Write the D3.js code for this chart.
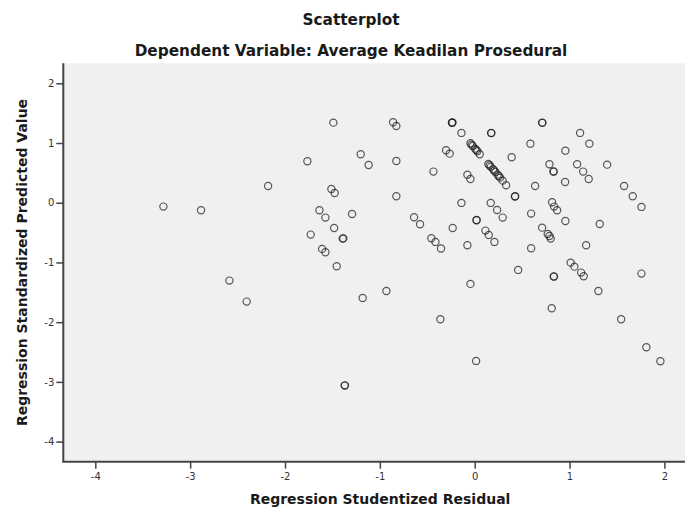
<!DOCTYPE html>
<html>
<head>
<meta charset="utf-8">
<script src="https://cdn.jsdelivr.net/npm/d3@7/dist/d3.min.js"></script>
<style>
  html, body { margin: 0; padding: 0; background: #fff; }
  svg { display: block; }
  .tick text { font-family: "DejaVu Sans", sans-serif; font-size: 10px; fill: #333; }
</style>
</head>
<body>
<svg id="chart" width="685" height="508"></svg>
<script>
// Regression Studentized Residual (x) for each case
const residual = [
  -1.490, -1.202, -1.118, -1.764, -2.178, -3.282, -2.885, -1.511, -1.476, -1.637,
  -1.574, -1.293, -1.482, -1.729, -1.392, -1.385, -1.609, -1.574, -1.455, -2.586,
  -2.404, -1.181, -1.371, -1.368, -0.931,
  -0.238, -0.234, -0.240, -0.140, 0.173, 0.176, 0.711, 0.714, 1.111, 1.209,
  0.587, 0.956, -0.302, -0.264,
  -0.045, -0.033, -0.021, 0.004, 0.016, 0.028, 0.053,
  -0.826, -0.860, -0.826, -0.435, 0.390,
  0.144, 0.156, 0.169, 0.194, 0.206, 0.218, 0.242, 0.255, 0.268, 0.295, 0.331,
  -0.077, -0.045, 0.424, 0.427, 0.788, 0.830, 0.833, 1.080, 1.143, 1.202,
  1.396, 0.953, 0.637, 1.575, 1.666, 1.758, -0.826,
  -0.140, 0.169, 0.236, 0.295, -0.232, 0.018, 0.021, 0.113, 0.148, 0.208,
  -0.077, -0.355, -0.639, -0.576, -0.457, -0.414,
  0.816, 0.837, 0.869, 0.595, 0.956, 1.318, 0.711, 0.770, 0.788, 0.801,
  0.595, 1.175, 1.012, 1.051, 1.122, 1.149, 0.833, 0.836,
  0.458, 1.758, 1.304, -0.045, -0.362, 0.812, 1.544, 0.015, 1.810, 1.958
];

// Regression Standardized Predicted Value (y) for each case
const predicted = [
  1.341, 0.812, 0.633, 0.695, 0.281, -0.065, -0.126, 0.231, 0.164, -0.126,
  -0.249, -0.188, -0.422, -0.534, -0.601, -0.597, -0.773, -0.829, -1.063, -1.304,
  -1.656, -1.594, -3.062, -3.058, -1.477,
  1.341, 1.345, 1.338, 1.169, 1.169, 1.166, 1.341, 1.338, 1.169, 0.989,
  0.989, 0.872, 0.879, 0.822,
  0.996, 0.973, 0.951, 0.906, 0.884, 0.862, 0.812,
  0.700, 1.348, 1.286, 0.521, 0.762,
  0.650, 0.627, 0.604, 0.561, 0.538, 0.516, 0.470, 0.445, 0.420, 0.370, 0.293,
  0.470, 0.398, 0.105, 0.108, 0.645, 0.521, 0.524, 0.645, 0.521, 0.398,
  0.638, 0.348, 0.281, 0.281, 0.109, -0.070, 0.109,
  -0.003, -0.003, -0.121, -0.249, -0.422, -0.293, -0.290, -0.467, -0.539, -0.656,
  -0.712, -0.767, -0.243, -0.360, -0.594, -0.656,
  0.008, -0.065, -0.126, -0.182, -0.305, -0.355, -0.417, -0.522, -0.556, -0.601,
  -0.762, -0.712, -1.003, -1.070, -1.170, -1.231, -1.237, -1.234,
  -1.125, -1.187, -1.477, -1.359, -1.950, -1.766, -1.950, -2.649, -2.419, -2.654
];

const xTicks = [-4, -3, -2, -1, 0, 1, 2];
const yTicks = [-4, -3, -2, -1, 0, 1, 2];

const titleText = "Scatterplot";
const subtitleText = "Dependent Variable: Average Keadilan Prosedural";
const xLabel = "Regression Studentized Residual";
const yLabel = "Regression Standardized Predicted Value";

const points = residual.map((r, i) => ({ x: r, y: predicted[i] }));

const svg = d3.select("#chart");

// Plot frame (the panel runs off the right edge of the page)
const frame = { left: 63.3, right: 697, top: 63.3, bottom: 461.7 };

const x = d3.scaleLinear().domain([-4, 2]).range([95.3, 664.4]);
const y = d3.scaleLinear().domain([-4, 2]).range([441.6, 83.3]);

svg.append("rect")
  .attr("x", frame.left).attr("y", frame.top)
  .attr("width", frame.right - frame.left).attr("height", frame.bottom - frame.top)
  .attr("fill", "#f0f0f0");

// Points
svg.append("g")
  .selectAll("circle")
  .data(points)
  .join("circle")
  .attr("cx", d => x(d.x))
  .attr("cy", d => y(d.y))
  .attr("r", 3.6)
  .attr("fill", "none")
  .attr("stroke", "#1a1a1a")
  .attr("stroke-opacity", 0.72)
  .attr("stroke-width", 1.2);

const fmt = d => d < 0 ? "-" + Math.abs(d) : String(d);

// Axes
const xAxis = svg.append("g")
  .attr("transform", `translate(0,${frame.bottom})`)
  .call(d3.axisBottom(x).tickValues(xTicks).tickFormat(fmt).tickSizeOuter(0).tickSize(7).tickPadding(4));
const yAxis = svg.append("g")
  .attr("transform", `translate(${frame.left},0)`)
  .call(d3.axisLeft(y).tickValues(yTicks).tickFormat(fmt).tickSizeOuter(0).tickSize(7).tickPadding(2));

[xAxis, yAxis].forEach(g => {
  g.select(".domain").remove();
  g.selectAll(".tick line").attr("stroke", "#444").attr("stroke-width", 1.5);
});

// Axis lines along the panel's left and bottom edges
svg.append("line")
  .attr("x1", frame.left).attr("x2", frame.left)
  .attr("y1", frame.top).attr("y2", frame.bottom)
  .attr("stroke", "#444").attr("stroke-width", 2);
svg.append("line")
  .attr("x1", frame.left - 1).attr("x2", frame.right)
  .attr("y1", frame.bottom).attr("y2", frame.bottom)
  .attr("stroke", "#444").attr("stroke-width", 2);

// Titles
const boldText = (sel, size) => sel
  .attr("font-family", "'DejaVu Sans', sans-serif")
  .attr("font-weight", "bold")
  .attr("font-size", size)
  .attr("fill", "#1a1a1a")
  .attr("text-anchor", "middle");

const plotMidX = (frame.left + frame.right) / 2;
const plotMidY = (frame.top + frame.bottom) / 2;

svg.append("text").call(boldText, 15.3).attr("x", 351).attr("y", 25).text(titleText);
svg.append("text").call(boldText, 15.3).attr("x", 351).attr("y", 56).text(subtitleText);
svg.append("text").call(boldText, 14).attr("x", plotMidX).attr("y", 504).text(xLabel);
svg.append("text").call(boldText, 14)
  .attr("transform", `translate(27,${plotMidY}) rotate(-90)`)
  .text(yLabel);
</script>
</body>
</html>
